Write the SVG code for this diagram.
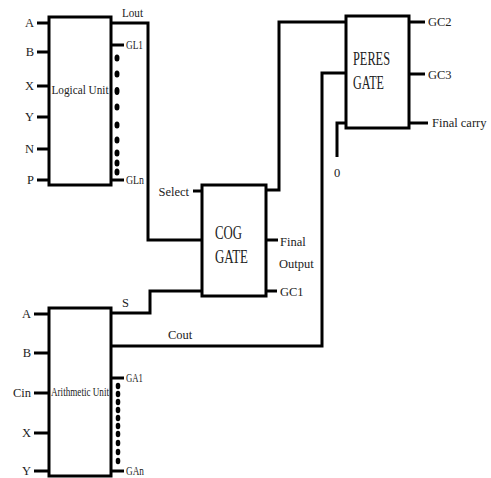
<svg xmlns="http://www.w3.org/2000/svg" width="491" height="478" viewBox="0 0 491 478">
<style>
.box{fill:#fff;stroke:#000;stroke-width:3}
.w{fill:none;stroke:#000;stroke-width:3}
text{font-family:"Liberation Serif","Times New Roman",serif;font-size:12.5px;fill:#222}
.e{text-anchor:end}
.m{text-anchor:middle}
.g{font-size:18px}
.dot{fill:#000}
</style>
<rect width="491" height="478" fill="#fff"/>
<g id="connectors" class="w">
<path d="M111,23 H148 V240 H202"/>
<path d="M193,191 H202"/>
<path d="M266,190 H279 V22 H346"/>
<path d="M266,240 H278"/>
<path d="M266,291 H277"/>
<path d="M111,313 H150 V291 H202"/>
<path d="M111,346 H322 V73 H346"/>
<path d="M337,157 V123 H346"/>
<path d="M409,22 H425"/>
<path d="M409,74 H425"/>
<path d="M409,123 H428"/>
</g>
<g id="logical-unit">
<g class="w">
<path d="M37,23 H49 M37,52 H49 M37,86 H49 M37,117 H49 M37,149 H49 M37,180 H49"/>
<path d="M111,45 H124 M111,180 H124"/>
</g>
<rect class="box" x="49" y="17" width="62" height="168"/>
<text class="m" x="80" y="94" font-size="13" textLength="57" lengthAdjust="spacingAndGlyphs">Logical Unit</text>
<text class="e" x="34" y="27">A</text>
<text class="e" x="34" y="56">B</text>
<text class="e" x="34" y="90">X</text>
<text class="e" x="34" y="121">Y</text>
<text class="e" x="34" y="153">N</text>
<text class="e" x="34" y="184">P</text>
<text x="122" y="17" textLength="21" lengthAdjust="spacingAndGlyphs">Lout</text>
<text x="126" y="49" textLength="17" lengthAdjust="spacingAndGlyphs">GL1</text>
<text x="126" y="184" textLength="18" lengthAdjust="spacingAndGlyphs">GLn</text>
<g class="dot">
<ellipse cx="117" cy="58" rx="2.5" ry="3.5"/>
<ellipse cx="117" cy="74" rx="2.5" ry="3.5"/>
<ellipse cx="117" cy="91" rx="2.5" ry="4"/>
<ellipse cx="117" cy="107" rx="2.5" ry="3.5"/>
<ellipse cx="117" cy="125" rx="2.5" ry="3.5"/>
<ellipse cx="117" cy="140" rx="2.5" ry="3.5"/>
<ellipse cx="117" cy="153" rx="2.5" ry="3.5"/>
<ellipse cx="117" cy="163" rx="2.5" ry="3.5"/>
<ellipse cx="117" cy="172" rx="2.5" ry="3.5"/>
</g>
</g>
<g id="arithmetic-unit">
<g class="w">
<path d="M34,314 H49 M34,353 H49 M34,393 H49 M34,433 H49 M34,471 H49"/>
<path d="M111,378 H124 M111,471 H124"/>
</g>
<rect class="box" x="49" y="308" width="62" height="168"/>
<text class="m" x="80" y="396" font-size="10" textLength="58" lengthAdjust="spacingAndGlyphs">Arithmetic Unit</text>
<text class="e" x="31" y="318">A</text>
<text class="e" x="31" y="357">B</text>
<text class="e" x="31" y="397">Cin</text>
<text class="e" x="31" y="437">X</text>
<text class="e" x="31" y="475">Y</text>
<text x="126" y="382" textLength="17" lengthAdjust="spacingAndGlyphs">GA1</text>
<text x="126" y="475" textLength="18" lengthAdjust="spacingAndGlyphs">GAn</text>
<g class="dot">
<ellipse cx="118" cy="386" rx="2.3" ry="3.3"/>
<ellipse cx="118" cy="394" rx="2.3" ry="3.3"/>
<ellipse cx="118" cy="402" rx="2.3" ry="3.3"/>
<ellipse cx="118" cy="410" rx="2.3" ry="3.3"/>
<ellipse cx="118" cy="418" rx="2.3" ry="3.3"/>
<ellipse cx="118" cy="426" rx="2.3" ry="3.3"/>
<ellipse cx="118" cy="434" rx="2.3" ry="3.3"/>
<ellipse cx="118" cy="443" rx="2.3" ry="3.3"/>
<ellipse cx="118" cy="452" rx="2.3" ry="3.3"/>
<ellipse cx="118" cy="461" rx="2.3" ry="3.3"/>
</g>
</g>
<g id="cog-gate">
<rect class="box" x="202" y="185" width="64" height="111"/>
<text class="g" x="215" y="239" textLength="27" lengthAdjust="spacingAndGlyphs">COG</text>
<text class="g" x="215" y="263" textLength="33" lengthAdjust="spacingAndGlyphs">GATE</text>
<text class="e" x="189" y="196">Select</text>
<text x="280" y="246">Final</text>
<text x="279" y="268">Output</text>
<text x="280" y="296">GC1</text>
<text x="122" y="307">S</text>
<text x="168" y="339">Cout</text>
</g>
<g id="peres-gate">
<rect class="box" x="346" y="16" width="63" height="112"/>
<text class="g" x="353" y="65" textLength="37" lengthAdjust="spacingAndGlyphs">PERES</text>
<text class="g" x="353" y="89" textLength="31" lengthAdjust="spacingAndGlyphs">GATE</text>
<text x="428" y="26">GC2</text>
<text x="428" y="79">GC3</text>
<text x="432" y="127">Final carry</text>
<text class="m" x="337" y="177">0</text>
</g>
</svg>
